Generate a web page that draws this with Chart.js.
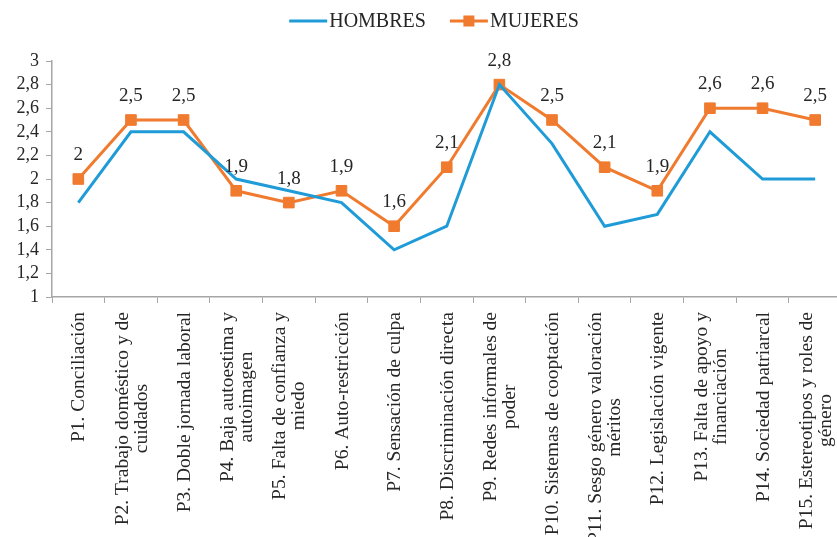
<!DOCTYPE html>
<html>
<head>
<meta charset="utf-8">
<script src="https://cdn.jsdelivr.net/npm/chart.js@4.4.1/dist/chart.umd.min.js"></script>
<style>
  html, body { margin: 0; padding: 0; background: #fff; overflow: hidden; }
  #wrap { width: 850px; height: 537px; }
</style>
</head>
<body>
<div id="wrap"><canvas id="c" width="850" height="537"></canvas></div>
<script>
const categories = [
  ["P1. Conciliación"],
  ["P2. Trabajo doméstico y de", "cuidados"],
  ["P3. Doble jornada laboral"],
  ["P4. Baja autoestima y", "autoimagen"],
  ["P5. Falta de confianza y", "miedo"],
  ["P6. Auto-restricción"],
  ["P7. Sensación de culpa"],
  ["P8. Discriminación directa"],
  ["P9. Redes informales de", "poder"],
  ["P10. Sistemas de cooptación"],
  ["P11. Sesgo género valoración", "méritos"],
  ["P12. Legislación vigente"],
  ["P13. Falta de apoyo y", "financiación"],
  ["P14. Sociedad patriarcal"],
  ["P15. Estereotipos y roles de", "género"]
];
const hombres = [1.8, 2.4, 2.4, 2.0, 1.9, 1.8, 1.4, 1.6, 2.8, 2.3, 1.6, 1.7, 2.4, 2.0, 2.0];
const mujeres = [2.0, 2.5, 2.5, 1.9, 1.8, 1.9, 1.6, 2.1, 2.8, 2.5, 2.1, 1.9, 2.6, 2.6, 2.5];
const seriesNames = ["HOMBRES", "MUJERES"];
const yTicks = [1, 1.2, 1.4, 1.6, 1.8, 2, 2.2, 2.4, 2.6, 2.8, 3];

const BLUE = '#1f9bd8';
const ORANGE = '#f07b2f';
const FONT = '"Liberation Serif", "Times New Roman", Times, serif';
const TEXT = '#262626';
const AXIS = '#a6a6a6';
const fmt = v => String(Math.round(v * 10) / 10).replace('.', ',');

const customPlugin = {
  id: 'custom',
  afterDraw(chart) {
    const ctx = chart.ctx;
    const xs = chart.scales.x;
    const area = chart.chartArea;
    // x labels
    ctx.save();
    ctx.font = '19.5px ' + FONT;
    ctx.fillStyle = TEXT;
    ctx.textBaseline = 'middle';
    ctx.textAlign = 'center';
    const lineH = 19;
    categories.forEach((lines, i) => {
      const x = xs.getPixelForValue(i);
      const W = Math.max(...lines.map(l => ctx.measureText(l).width));
      ctx.save();
      ctx.translate(x + 1, area.bottom + 15);
      ctx.rotate(-Math.PI / 2);
      lines.forEach((l, k) => {
        ctx.fillText(l, -W / 2, (k - (lines.length - 1) / 2) * lineH);
      });
      ctx.restore();
    });
    ctx.restore();

    // data labels for MUJERES
    const meta = chart.getDatasetMeta(1);
    ctx.save();
    ctx.font = '19px ' + FONT;
    ctx.fillStyle = TEXT;
    ctx.textAlign = 'center';
    ctx.textBaseline = 'middle';
    meta.data.forEach((pt, i) => {
      ctx.fillText(fmt(mujeres[i]), pt.x, pt.y - 24);
    });
    ctx.restore();

    // legend
    ctx.save();
    ctx.font = '20px ' + FONT;
    ctx.textBaseline = 'middle';
    ctx.textAlign = 'left';
    const ly = 21;
    const lineLen = 38, gapT = 2, gapItem = 24;
    const w0 = ctx.measureText(seriesNames[0]).width;
    const w1 = ctx.measureText(seriesNames[1]).width;
    const total = lineLen + gapT + w0 + gapItem + lineLen + gapT + w1;
    let x = 434 - total / 2;
    ctx.strokeStyle = BLUE; ctx.lineWidth = 3;
    ctx.beginPath(); ctx.moveTo(x, ly); ctx.lineTo(x + lineLen, ly); ctx.stroke();
    ctx.fillStyle = TEXT;
    ctx.fillText(seriesNames[0], x + lineLen + gapT, ly + 1);
    x += lineLen + gapT + w0 + gapItem;
    ctx.strokeStyle = ORANGE;
    ctx.beginPath(); ctx.moveTo(x, ly); ctx.lineTo(x + lineLen, ly); ctx.stroke();
    ctx.fillStyle = ORANGE;
    ctx.fillRect(x + lineLen / 2 - 5.5, ly - 5.5, 11, 11);
    ctx.fillStyle = TEXT;
    ctx.fillText(seriesNames[1], x + lineLen + gapT, ly + 1);
    ctx.restore();
  }
};

new Chart(document.getElementById('c'), {
  type: 'line',
  data: {
    labels: categories.map(c => c.join(' ')),
    datasets: [
      {
        label: seriesNames[0],
        data: hombres,
        borderColor: BLUE,
        backgroundColor: BLUE,
        borderWidth: 3,
        pointRadius: 0,
        pointHoverRadius: 0,
        tension: 0
      },
      {
        label: seriesNames[1],
        data: mujeres,
        borderColor: ORANGE,
        backgroundColor: ORANGE,
        borderWidth: 3,
        pointStyle: 'rect',
        pointRadius: 7.5,
        pointBorderWidth: 1,
        pointBorderColor: ORANGE,
        pointBackgroundColor: ORANGE,
        tension: 0
      }
    ]
  },
  options: {
    responsive: false,
    animation: false,
    layout: { padding: { top: 61, right: 8, bottom: 0, left: 0 } },
    plugins: {
      legend: { display: false },
      tooltip: { enabled: false }
    },
    scales: {
      x: {
        type: 'category',
        offset: true,
        grid: {
          offset: true,
          drawOnChartArea: false,
          drawTicks: true,
          tickLength: 6,
          color: AXIS,
          lineWidth: 1
        },
        border: { color: AXIS, width: 1.5 },
        ticks: { display: false },
        afterFit(scale) { scale.height = 240; }
      },
      y: {
        min: 1,
        max: 3,
        afterBuildTicks(scale) { scale.ticks = yTicks.map(v => ({ value: v })); },
        grid: {
          drawOnChartArea: false,
          drawTicks: true,
          tickLength: 6,
          color: AXIS,
          lineWidth: 1
        },
        border: { color: AXIS, width: 1.5 },
        ticks: {
          autoSkip: false,
          padding: 7,
          color: TEXT,
          font: { family: FONT, size: 18 },
          callback: v => fmt(v)
        },
        afterFit(scale) { scale.width = 52; }
      }
    }
  },
  plugins: [customPlugin]
});
</script>
</body>
</html>
